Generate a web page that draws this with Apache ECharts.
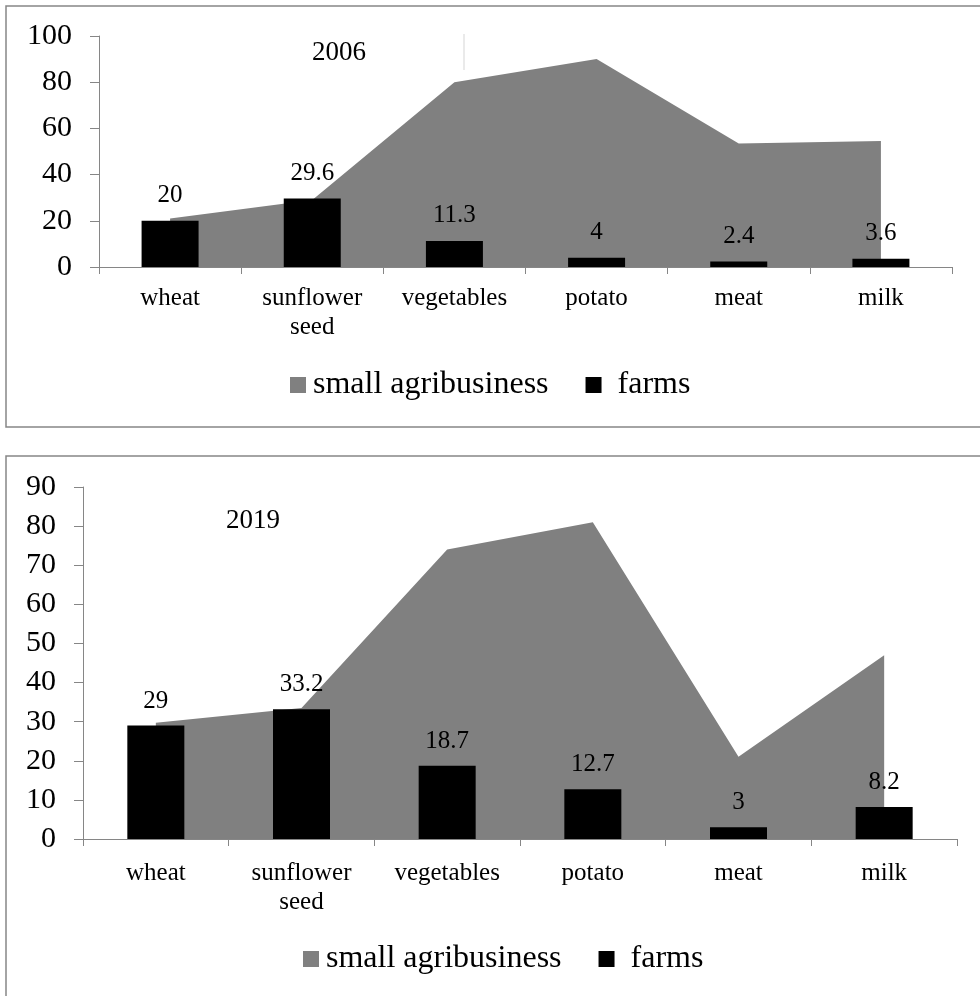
<!DOCTYPE html>
<html>
<head>
<meta charset="utf-8">
<script src="https://cdn.jsdelivr.net/npm/echarts@6.0.0/dist/echarts.min.js"></script>
<style>
  html, body { margin: 0; padding: 0; background: #fff; }
  #chart { width: 980px; height: 996px; }
</style>
</head>
<body>
<div id="chart"></div>
<script>
// categories and values
const categories = ['wheat', 'sunflower\nseed', 'vegetables', 'potato', 'meat', 'milk'];
const agri2006 = [21, 29, 80, 90, 53.5, 54.5];
const farms2006 = [20, 29.6, 11.3, 4, 2.4, 3.6];
const agri2019 = [29.7, 33.5, 74, 81, 21, 47];
const farms2019 = [29, 33.2, 18.7, 12.7, 3, 8.2];
const seriesNames = ['small agribusiness', 'farms'];

const font = "'Liberation Serif', 'Times New Roman', serif";
const axisGray = '#868686';

function xAxis(gridIndex, margin) {
    return {
        type: 'category',
        gridIndex: gridIndex,
        data: categories,
        axisLine: { lineStyle: { color: axisGray, width: 1 } },
        axisTick: { show: true, length: 7, lineStyle: { color: axisGray } },
        axisLabel: {
            interval: 0, margin: margin, color: '#000',
            fontFamily: font, fontSize: 25, lineHeight: 29
        }
    };
}

function yAxis(gridIndex, max, step) {
    return {
        type: 'value',
        gridIndex: gridIndex,
        min: 0, max: max, interval: step,
        splitLine: { show: false },
        axisLine: { show: true, lineStyle: { color: axisGray, width: 1 } },
        axisTick: { show: true, length: 9, lineStyle: { color: axisGray } },
        axisLabel: { margin: 27, color: '#000', fontFamily: font, fontSize: 30 }
    };
}

function areaSeries(idx, values) {
    return {
        name: seriesNames[0],
        type: 'line',
        xAxisIndex: idx, yAxisIndex: idx,
        data: values,
        symbol: 'none',
        lineStyle: { width: 0, color: '#808080' },
        itemStyle: { color: '#808080' },
        areaStyle: { color: '#808080', opacity: 1 },
        z: 1
    };
}

function barSeries(idx, values, dist) {
    return {
        name: seriesNames[1],
        type: 'bar',
        xAxisIndex: idx, yAxisIndex: idx,
        data: values,
        barWidth: 57,
        itemStyle: { color: '#000' },
        label: {
            show: true, position: 'top', distance: dist,
            color: '#000', fontFamily: font, fontSize: 25
        },
        z: 3
    };
}

function legend(left, top) {
    return {
        data: seriesNames,
        left: left, top: top,
        padding: 0,
        icon: 'rect',
        itemWidth: 16, itemHeight: 16,
        itemGap: 37,
        selectedMode: false,
        // extra room between the black square and "farms"
        formatter: function (name) { return name === 'farms' ? '{g|}' + name : '{g2|}' + name; },
        textStyle: {
            color: '#000', fontFamily: font, fontSize: 32,
            rich: { g: { width: 11 }, g2: { width: 2 } }
        }
    };
}

let chart = echarts.init(document.getElementById('chart'), null, { renderer: 'canvas' });

chart.setOption({
    animation: false,
    backgroundColor: '#fff',
    grid: [
        { left: 99, top: 36, width: 853, height: 231 },
        { left: 83, top: 487, width: 874, height: 352 }
    ],
    xAxis: [xAxis(0, 17), xAxis(1, 20)],
    yAxis: [yAxis(0, 100, 20), yAxis(1, 90, 10)],
    legend: [legend(290, 369), legend(303, 943)],
    graphic: [
        {
            type: 'rect', silent: true, z: -1,
            shape: { x: 6, y: 6, width: 1000, height: 421 },
            style: { fill: 'none', stroke: axisGray, lineWidth: 1.5 }
        },
        {
            type: 'rect', silent: true, z: -1,
            shape: { x: 6, y: 456, width: 1000, height: 600 },
            style: { fill: 'none', stroke: axisGray, lineWidth: 1.5 }
        },
        {
            type: 'line', silent: true,
            shape: { x1: 464, y1: 34, x2: 464, y2: 70 },
            style: { stroke: '#e3e3e3', lineWidth: 1.5 }
        },
        {
            type: 'text', left: 312, top: 39,
            style: { text: '2006', fill: '#000', font: '27px ' + font }
        },
        {
            type: 'text', left: 226, top: 507,
            style: { text: '2019', fill: '#000', font: '27px ' + font }
        }
    ],
    series: [
        areaSeries(0, agri2006),
        barSeries(0, farms2006, 13),
        areaSeries(1, agri2019),
        barSeries(1, farms2019, 12)
    ]
});
</script>
</body>
</html>
